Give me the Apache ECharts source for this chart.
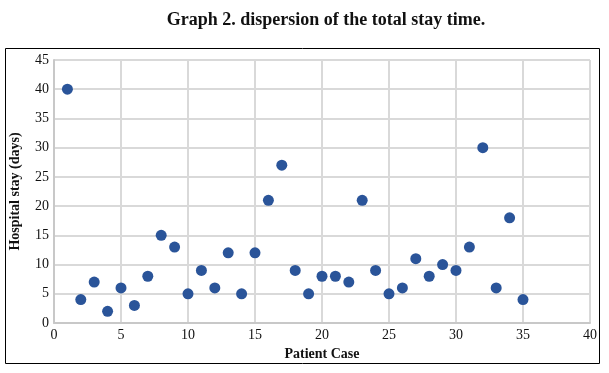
<!DOCTYPE html>
<html>
<head>
<meta charset="utf-8">
<script src="https://cdn.jsdelivr.net/npm/echarts@6/dist/echarts.min.js"></script>
<style>html,body{margin:0;padding:0;background:#fff;}#c{width:609px;height:373px;}</style>
</head>
<body>
<div id="c"></div>
<script>
var patientCase = [1,2,3,4,5,6,7,8,9,10,11,12,13,14,15,16,17,18,19,20,21,22,23,24,25,26,27,28,29,30,31,32,33,34,35];
var stayDays = [40,4,7,2,6,3,8,15,13,5,9,6,12,5,12,21,27,9,5,8,8,7,21,9,5,6,11,8,10,9,13,30,6,18,4];
var titleText = 'Graph 2. dispersion of the total stay time.';
var xName = 'Patient Case';
var yName = 'Hospital stay (days)';

var data = patientCase.map(function(x, i){ return [x, stayDays[i]]; });
var serif = '"Liberation Serif", "DejaVu Serif", serif';
var chart = echarts.init(document.getElementById('c'), null, {renderer: 'canvas'});
chart.setOption({
  animation: false,
  backgroundColor: '#fff',
  title: {
    text: titleText, left: 321, top: 6, textAlign: 'center',
    textStyle: {fontFamily: serif, fontWeight: 'bold', fontSize: 18, color: '#111'}
  },
  graphic: [{
    type: 'rect', shape: {x: 5.5, y: 48.5, width: 594, height: 315},
    style: {fill: 'none', stroke: '#000', lineWidth: 1}, silent: true, z: -1
  }],
  grid: {left: 51, right: 19, top: 60, bottom: 50, containLabel: false},
  xAxis: {
    type: 'value', min: 0, max: 40, interval: 5,
    name: xName, nameLocation: 'middle', nameGap: 22,
    nameTextStyle: {fontFamily: serif, fontWeight: 'bold', fontSize: 14, color: '#111'},
    axisLine: {show: true, lineStyle: {color: '#c8c8c8', width: 2}},
    axisTick: {show: false},
    axisLabel: {fontFamily: serif, fontSize: 14, color: '#111', margin: 5},
    splitLine: {show: true, lineStyle: {color: '#d9d9d9', width: 2}}
  },
  yAxis: {
    type: 'value', min: 0, max: 45, interval: 5,
    name: yName, nameLocation: 'middle', nameGap: 32,
    nameTextStyle: {fontFamily: serif, fontWeight: 'bold', fontSize: 14, color: '#111'},
    axisLine: {show: true, lineStyle: {color: '#c8c8c8', width: 2}},
    axisTick: {show: false},
    axisLabel: {fontFamily: serif, fontSize: 14, color: '#111', margin: 5},
    splitLine: {show: true, lineStyle: {color: '#d9d9d9', width: 2}}
  },
  series: [{
    type: 'scatter', data: data, symbolSize: 11,
    itemStyle: {color: '#2a5499', opacity: 1}
  }]
});
</script>
</body>
</html>
